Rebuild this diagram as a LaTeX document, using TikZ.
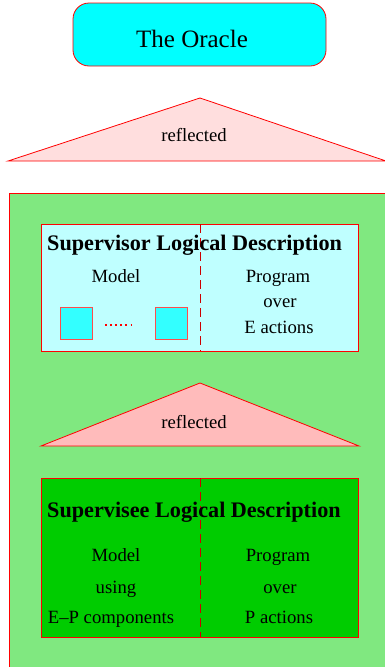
\documentclass[tikz,border=0pt]{standalone}
\usepackage{fontspec}
\setmainfont{Liberation Serif}
\definecolor{oraclecyan}{HTML}{00FFFF}
\definecolor{palepink}{HTML}{FFDEDE}
\definecolor{pink}{HTML}{FFBBBB}
\definecolor{outergreen}{HTML}{80E880}
\definecolor{palecyan}{HTML}{BFFFFF}
\definecolor{boxcyan}{HTML}{33FFFF}
\definecolor{deepgreen}{HTML}{00CC00}
\tikzset{
  redline/.style={draw=red, line width=0.8pt},
  txt/.style={font=\fontsize{18.7}{22}\selectfont, inner sep=0pt},
  ttl/.style={font=\fontsize{22.2}{26}\selectfont\bfseries, inner sep=0pt},
  divider/.style={red!80!black, line width=0.5pt, dash pattern=on 9pt off 5pt},
}
\begin{document}
\begin{tikzpicture}[x=1pt,y=-1pt]
\useasboundingbox (0,0) rectangle (385,667);
% oracle
\draw[redline, fill=oraclecyan, rounded corners=16pt] (73,3) rectangle (326,66);
\node[inner sep=0pt, font=\fontsize{25}{30}\selectfont] (oracle) at (192,39) {The Oracle};
% first reflection
\draw[redline, fill=palepink] (8,161) -- (200,98) -- (386,161) -- cycle;
\node[txt] (refl1) at (194,135) {reflected};
% outer green region
\draw[redline, fill=outergreen] (9,193) rectangle (390,672);
% supervisor
\draw[redline, fill=palecyan] (41,224) rectangle (358,351);
\draw[divider] (200,224) -- (200,351);
\node[ttl, anchor=base west] (suptitle) at (47,250) {Supervisor Logical Description};
\node[txt, anchor=base] (supmodel) at (116,282) {Model};
\node[txt, anchor=base] (supprog) at (278,282) {Program};
\node[txt, anchor=base] (supover) at (280,307) {over};
\node[txt, anchor=base] (supact) at (279,333) {E actions};
\draw[red!70, line width=0.8pt, fill=boxcyan] (60,307) rectangle (92,339);
\draw[red!70, line width=0.8pt, fill=boxcyan] (155,307) rectangle (187,339);
\draw[red, line width=1.2pt, dash pattern=on 1.5pt off 3.6pt] (105,325) -- (132,325);
% second reflection
\draw[redline, fill=pink] (41,446) -- (200,383) -- (359,446) -- cycle;
\node[txt] (refl2) at (194,422) {reflected};
% supervisee
\draw[redline, fill=deepgreen] (41,478) rectangle (358,637);
\draw[divider] (200,478) -- (200,637);
\node[ttl, anchor=base west] (seetitle) at (47,517) {Supervisee Logical Description};
\node[txt, anchor=base] (seemodel) at (116,561) {Model};
\node[txt, anchor=base] (seeusing) at (116,593) {using};
\node[txt, anchor=base] (seecomp) at (111,623) {E--P components};
\node[txt, anchor=base] (seeprog) at (278,561) {Program};
\node[txt, anchor=base] (seeover) at (280,593) {over};
\node[txt, anchor=base] (seeact) at (279,623) {P actions};
\end{tikzpicture}
\end{document}
